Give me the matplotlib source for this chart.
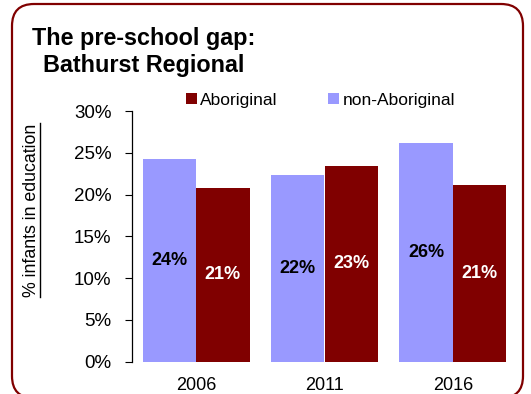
import matplotlib
matplotlib.use("Agg")
import matplotlib.pyplot as plt
from matplotlib.patches import FancyBboxPatch
from matplotlib.lines import Line2D
import numpy as np

plt.rcParams['font.family'] = ['Liberation Sans', 'DejaVu Sans']

years = ['2006', '2011', '2016']
aboriginal = [20.8, 23.4, 21.1]
non_aboriginal = [24.2, 22.3, 26.2]
labels_abo = ['21%', '23%', '21%']
labels_non = ['24%', '22%', '26%']
yticks = [0, 5, 10, 15, 20, 25, 30]

c_abo = '#800000'
c_non = '#9999ff'

W, H = 531, 394
fig = plt.figure(figsize=(W / 100, H / 100), dpi=100)
fig.patch.set_facecolor('white')

# rounded frame around the whole chart (pixel coordinates; bottom edge runs off the canvas)
frame = FancyBboxPatch((12, -4), 511, 394, boxstyle="round,pad=0,rounding_size=22",
                       transform=None, facecolor='none', edgecolor=c_abo,
                       linewidth=1.6, zorder=0)
fig.patches.append(frame)

ax = fig.add_axes([132 / W, 32.3 / H, (517 - 132) / W, (283 - 32.3) / H])
x = np.arange(len(years))
bw = 0.417
b_non = ax.bar(x - bw / 2, non_aboriginal, bw, color=c_non, label='non-Aboriginal')
b_abo = ax.bar(x + bw / 2, aboriginal, bw, color=c_abo, label='Aboriginal')

for rect, txt in zip(b_non, labels_non):
    ax.text(rect.get_x() + rect.get_width() / 2, rect.get_height() / 2, txt,
            ha='center', va='center', fontsize=13, fontweight='bold', color='black')
for rect, txt in zip(b_abo, labels_abo):
    ax.text(rect.get_x() + rect.get_width() / 2, rect.get_height() / 2, txt,
            ha='center', va='center', fontsize=13, fontweight='bold', color='white')

ax.set_xlim(-0.5, 2.5)
ax.set_ylim(0, 30)
ax.set_yticks(yticks)
ax.set_yticklabels([f'{v}%' for v in yticks], fontsize=13.5)
ax.set_xticks(x)
ax.set_xticklabels(years, fontsize=13)
ax.tick_params(axis='y', direction='out', length=4.7, width=0.8, pad=10)
ax.tick_params(axis='x', length=0, pad=11)
for s in ['top', 'right', 'bottom']:
    ax.spines[s].set_visible(False)
ax.spines['left'].set_linewidth(0.9)

# title
fig.text(32 / W, 1 - 45 / H, 'The pre-school gap:', fontsize=16.8, fontweight='bold',
         ha='left', va='baseline')
fig.text(43 / W, 1 - 72 / H, 'Bathurst Regional', fontsize=16.8, fontweight='bold',
         ha='left', va='baseline')

# legend
handles = [b_abo, b_non]
fig.legend(handles, ['Aboriginal', 'non-Aboriginal'], ncol=2,
           loc='center left', bbox_to_anchor=(186 / W, 1 - 100 / H),
           frameon=False, fontsize=12.5, handlelength=0.63, handleheight=0.63,
           handletextpad=0.2, columnspacing=2.9, borderpad=0, borderaxespad=0)

# y axis title with underline
ylab = fig.text(32 / W, 1 - 210 / H, '% infants in education', fontsize=12.8,
                rotation=90, ha='center', va='center')
fig.canvas.draw()
bb = ylab.get_window_extent()
ux = (bb.x1 - 1.0) / W
fig.add_artist(Line2D([ux, ux], [bb.y0 / H, bb.y1 / H], color='black',
                      linewidth=1.0, transform=fig.transFigure))

fig.savefig('out.png', dpi=100, facecolor='white')
